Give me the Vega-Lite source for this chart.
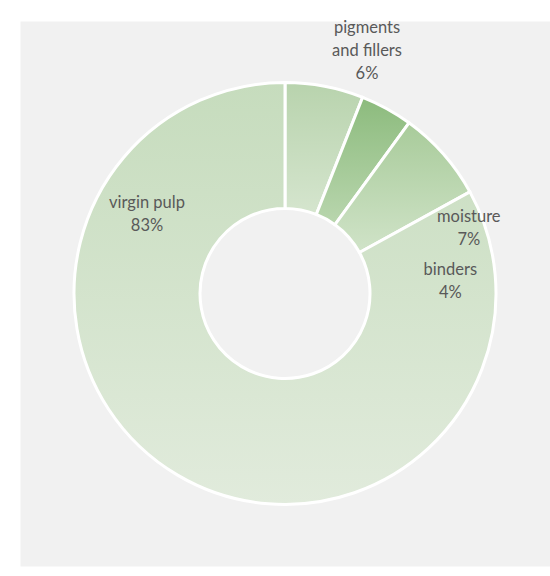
{
  "$schema": "https://vega.github.io/schema/vega-lite/v6.json",
  "width": 550,
  "height": 576,
  "autosize": {"type": "fit", "contains": "padding"},
  "padding": {"left": 20, "top": 21, "right": 0, "bottom": 10},
  "background": "white",
  "view": {"fill": "#f1f1f1", "stroke": "transparent"},
  "data": {
    "values": [
      {"part": "pigments and fillers", "value": 6, "label": "pigments\nand fillers\n6%"},
      {"part": "binders", "value": 4, "label": "binders\n4%"},
      {"part": "moisture", "value": 7, "label": "moisture\n7%"},
      {"part": "virgin pulp", "value": 83, "label": "virgin pulp\n83%"}
    ]
  },
  "transform": [{"stack": "value", "groupby": [], "as": ["v0", "v1"]}],
  "encoding": {
    "theta": {"field": "v0", "type": "quantitative", "scale": {"domain": [0, 100]}},
    "theta2": {"field": "v1"}
  },
  "layer": [
    {
      "mark": {"type": "arc", "radius": 211, "radius2": 85, "stroke": "white", "strokeWidth": 3},
      "encoding": {
        "color": {
          "condition": [
            {"test": "datum.part === 'pigments and fillers'", "value": {"gradient": "linear", "x1": 0, "y1": 0, "x2": 0, "y2": 1, "stops": [{"offset": 0, "color": "#b8d3ad"}, {"offset": 1, "color": "#d5e5ce"}]}},
            {"test": "datum.part === 'binders'", "value": {"gradient": "linear", "x1": 0, "y1": 0, "x2": 0, "y2": 1, "stops": [{"offset": 0, "color": "#8cbb7d"}, {"offset": 1, "color": "#b9d6ae"}]}},
            {"test": "datum.part === 'moisture'", "value": {"gradient": "linear", "x1": 0, "y1": 0, "x2": 0, "y2": 1, "stops": [{"offset": 0, "color": "#a8cb9a"}, {"offset": 1, "color": "#d0e3c8"}]}}
          ],
          "value": {"gradient": "linear", "x1": 0, "y1": 0, "x2": 0, "y2": 1, "stops": [{"offset": 0, "color": "#c6dcbd"}, {"offset": 1, "color": "#e1ebdc"}]}
        }
      }
    },
    {
      "transform": [{"filter": "datum.part === 'pigments and fillers'"}],
      "mark": {"type": "text", "radius": 220, "dx": 1, "dy": -61, "font": "Lato", "fontSize": 16.5, "color": "#595959", "lineBreak": "\n", "lineHeight": 23, "align": "center", "baseline": "middle"},
      "encoding": {"theta": {"field": "v1", "type": "quantitative"}, "theta2": null, "text": {"field": "label"}}
    },
    {
      "transform": [{"filter": "datum.part === 'binders'"}],
      "mark": {"type": "text", "radius": 220, "dx": 36, "dy": 154.5, "font": "Lato", "fontSize": 16.5, "color": "#595959", "lineBreak": "\n", "lineHeight": 23, "align": "center", "baseline": "middle"},
      "encoding": {"theta": {"field": "v1", "type": "quantitative"}, "theta2": null, "text": {"field": "label"}}
    },
    {
      "transform": [{"filter": "datum.part === 'moisture'"}],
      "mark": {"type": "text", "radius": 220, "dx": -9, "dy": 29.5, "font": "Lato", "fontSize": 16.5, "color": "#595959", "lineBreak": "\n", "lineHeight": 23, "align": "center", "baseline": "middle"},
      "encoding": {"theta": {"field": "v1", "type": "quantitative"}, "theta2": null, "text": {"field": "label"}}
    },
    {
      "transform": [{"filter": "datum.part === 'virgin pulp'"}],
      "mark": {"type": "text", "radius": 220, "dx": -138, "dy": 129.5, "font": "Lato", "fontSize": 16.5, "color": "#595959", "lineBreak": "\n", "lineHeight": 23, "align": "center", "baseline": "middle"},
      "encoding": {"theta": {"field": "v1", "type": "quantitative"}, "theta2": null, "text": {"field": "label"}}
    }
  ]
}
